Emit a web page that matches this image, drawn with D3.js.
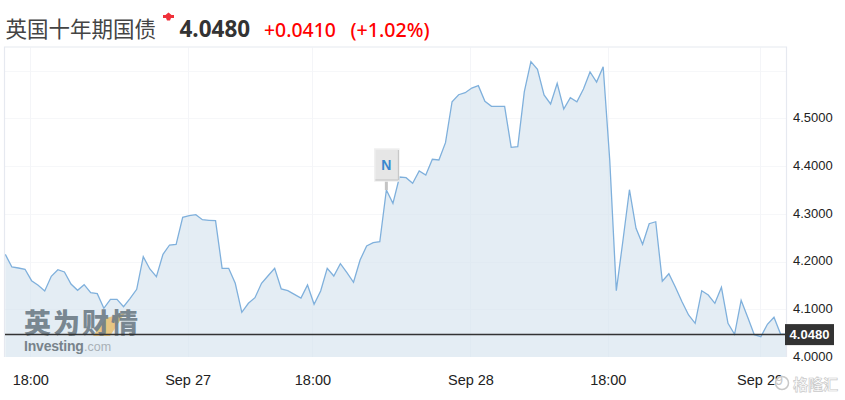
<!DOCTYPE html>
<html>
<head>
<meta charset="utf-8">
<script src="https://cdnjs.cloudflare.com/ajax/libs/d3/7.8.5/d3.min.js"></script>
<style>
html, body { margin: 0; padding: 0; background: #fff; overflow: hidden; }
.axis text { font-family: "Liberation Sans", Arial, sans-serif; fill: #222; }
.axis path, .axis line { display: none; }
</style>
</head>
<body>
<div class="container"></div>
<script>
const WIDTH = 845;
const HEIGHT = 400;
const LEFT = 5, RIGHT = 786, TOP = 47.5, BOTTOM = 357;

const title = "英国十年期国债";
const lastPrice = "4.0480";
const change = "+0.0410";
const changePct = "(+1.02%)";
const lastValue = 4.048;

// one value per sampled period, the axis skips closed hours so x is just the index
const yields = [
	4.2153, 4.1887, 4.1866, 4.1839, 4.16, 4.1503, 4.1384, 4.1692, 4.183, 4.1782,
	4.153, 4.1398, 4.1516, 4.1348, 4.1327, 4.1021, 4.121, 4.121, 4.1055, 4.1231,
	4.1419, 4.2103, 4.1845, 4.1683, 4.2153, 4.2348, 4.2363, 4.2929, 4.2962, 4.2983,
	4.2878, 4.2866, 4.2857, 4.186, 4.186, 4.1545, 4.0937, 4.1126, 4.1243, 4.1545,
	4.1704, 4.186, 4.1426, 4.139, 4.1314, 4.1237, 4.1509, 4.1105, 4.1384, 4.186,
	4.1698, 4.1956, 4.1767, 4.1566, 4.2034, 4.2327, 4.2396, 4.2417, 4.3501, 4.3222,
	4.3774, 4.3759, 4.3642, 4.3899, 4.3816, 4.4145, 4.413, 4.4493, 4.5352, 4.5499,
	4.5541, 4.5639, 4.5688, 4.5361, 4.5256, 4.5256, 4.5256, 4.4396, 4.4409, 4.5562,
	4.6191, 4.6031, 4.5493, 4.5304, 4.5738, 4.5199, 4.5436, 4.5352, 4.5618, 4.5975,
	4.5765, 4.6086, 4.413, 4.139, 4.2432, 4.3507, 4.2698, 4.2363, 4.2795, 4.2836,
	4.1587, 4.1746, 4.1461, 4.1159, 4.0881, 4.0706, 4.139, 4.13, 4.1126, 4.1461,
	4.0706, 4.0476, 4.1189, 4.0832, 4.0468, 4.0426, 4.0686, 4.0832, 4.048, 4.048
];

const yTicks = [4.0, 4.1, 4.2, 4.3, 4.4, 4.5, 4.6];
const yLabelled = [4.0, 4.1, 4.2, 4.3, 4.4, 4.5];
const xTickIndex = [3.8, 27.75, 46.75, 70.8, 91.7, 114.8];
const xTickLabels = ["18:00", "Sep 27", "18:00", "Sep 28", "18:00", "Sep 29"];
const newsIndex = 58;

var svg = d3.select(".container").append('svg')
	.attr('width', WIDTH)
	.attr('height', HEIGHT)
	.style('display', 'block');

var xScale = d3.scaleLinear()
	.domain([0, yields.length - 1])
	.range([5.3, 5.3 + 6.57 * (yields.length - 1)]);

var yScale = d3.scaleLinear()
	.domain([4.0, 4.1])
	.range([BOTTOM, BOTTOM - 47.7]);

// frame and grid
svg.append('rect')
	.attr('x', LEFT).attr('y', TOP)
	.attr('width', RIGHT - LEFT).attr('height', BOTTOM - TOP)
	.attr('fill', '#fff');

svg.append('g').selectAll('line')
	.data(yTicks.slice(1))
	.join('line')
	.attr('x1', LEFT).attr('x2', RIGHT)
	.attr('y1', function(d){ return Math.round(yScale(d)) + 0.5; })
	.attr('y2', function(d){ return Math.round(yScale(d)) + 0.5; })
	.attr('stroke', '#f6f7f9');

svg.append('g').selectAll('line')
	.data(xTickIndex)
	.join('line')
	.attr('x1', function(d){ return Math.round(xScale(d)) + 0.5; })
	.attr('x2', function(d){ return Math.round(xScale(d)) + 0.5; })
	.attr('y1', TOP).attr('y2', BOTTOM)
	.attr('stroke', '#f4f5f8');

svg.append('clipPath').attr('id', 'plot')
	.append('rect')
	.attr('x', LEFT).attr('y', TOP)
	.attr('width', RIGHT - LEFT).attr('height', BOTTOM - TOP);

var area = d3.area()
	.x(function(d, i){ return xScale(i); })
	.y0(BOTTOM)
	.y1(function(d){ return yScale(d); });

var line = d3.line()
	.x(function(d, i){ return xScale(i); })
	.y(function(d){ return yScale(d); });

var plot = svg.append('g').attr('clip-path', 'url(#plot)');

plot.append('path')
	.attr('d', area(yields))
	.attr('fill', '#d5e3ee')
	.attr('fill-opacity', 0.65);

plot.append('path')
	.attr('d', line(yields))
	.attr('fill', 'none')
	.attr('stroke', '#7fb0dc')
	.attr('stroke-width', 1.3);

// outer edges
svg.append('path')
	.attr('d', 'M' + (LEFT - 0.5) + ',' + BOTTOM + 'V' + (TOP - 0.5) + 'H' + (RIGHT + 0.5) + 'V' + BOTTOM)
	.attr('fill', 'none')
	.attr('stroke', '#e6e9f0')
	.attr('stroke-width', 1.2);

// investing.com watermark sits under the price line
var mark = svg.append('g');
mark.append('path')
	.attr('d', d3.line()([[93, 336], [106, 318], [125, 313], [110, 336]]) + 'Z')
	.attr('fill', '#e8b85c')
	.attr('fill-opacity', 0.75);
mark.append('text')
	.attr('x', 24).attr('y', 333)
	.attr('font-family', '"Noto Sans CJK SC"')
	.attr('font-weight', 900)
	.attr('font-size', 27)
	.attr('textLength', 114)
	.attr('fill', '#6f7d87')
	.attr('fill-opacity', 0.92)
	.text('英为财情');
mark.append('text')
	.attr('x', 24).attr('y', 351)
	.attr('font-family', '"Liberation Sans", Arial, sans-serif')
	.attr('font-weight', 700)
	.attr('font-size', 14)
	.attr('letter-spacing', -0.2)
	.attr('fill', '#78838b')
	.text('Investing');
mark.append('text')
	.attr('x', 84).attr('y', 351)
	.attr('font-family', '"Liberation Sans", Arial, sans-serif')
	.attr('font-size', 12.5)
	.attr('fill', '#a9b1b7')
	.text('.com');

// current price line and flag
svg.append('line')
	.attr('x1', LEFT).attr('x2', RIGHT)
	.attr('y1', Math.round(yScale(lastValue)) + 0.5)
	.attr('y2', Math.round(yScale(lastValue)) + 0.5)
	.attr('stroke', '#333')
	.attr('stroke-width', 1.3);

// axes
var yAxis = d3.axisRight(yScale)
	.tickValues(yLabelled)
	.tickFormat(d3.format('.4f'))
	.tickSize(0)
	.tickPadding(0);

svg.append('g')
	.attr('class', 'axis')
	.attr('transform', 'translate(793,-1)')
	.call(yAxis)
	.selectAll('text')
	.style('font-size', '13px');

var xAxis = d3.axisBottom(xScale)
	.tickValues(xTickIndex)
	.tickFormat(function(d, i){ return xTickLabels[i]; })
	.tickSize(0)
	.tickPadding(0);

svg.append('g')
	.attr('class', 'axis')
	.attr('transform', 'translate(0,' + 375 + ')')
	.call(xAxis)
	.selectAll('text')
	.style('font-size', '14.5px');

svg.append('rect')
	.attr('x', 785).attr('y', yScale(lastValue) - 10)
	.attr('width', 49).attr('height', 21)
	.attr('fill', '#333');
svg.append('text')
	.attr('x', 809.5).attr('y', yScale(lastValue) + 5)
	.attr('text-anchor', 'middle')
	.attr('font-family', '"Liberation Sans", Arial, sans-serif')
	.attr('font-weight', 700)
	.attr('font-size', 13)
	.attr('fill', '#fff')
	.text(lastPrice);

// news flag
var newsX = xScale(newsIndex), newsY = yScale(yields[newsIndex]);
var flag = svg.append('g').attr('transform', 'translate(' + newsX + ',' + newsY + ')');
flag.append('rect')
	.attr('x', -1.5).attr('y', -10).attr('width', 3).attr('height', 10)
	.attr('fill', '#c4c4c4');
flag.append('rect')
	.attr('x', -11.5).attr('y', -41).attr('width', 24).attr('height', 32)
	.attr('fill', '#e6e6e6')
	.attr('stroke', '#efefef')
	.attr('stroke-width', 1.5);
flag.append('path')
	.attr('d', 'M-11,-10H12V-40')
	.attr('fill', 'none')
	.attr('stroke', '#c2c2c2')
	.attr('stroke-width', 1);
flag.append('text')
	.attr('x', 0).attr('y', -20)
	.attr('text-anchor', 'middle')
	.attr('font-family', '"Liberation Sans", Arial, sans-serif')
	.attr('font-weight', 700)
	.attr('font-size', 14)
	.attr('fill', '#3a87cf')
	.text('N');

// header
svg.append('text')
	.attr('x', 5.5).attr('y', 37)
	.attr('font-family', '"Noto Sans CJK SC"')
	.attr('font-size', 21.5)
	.attr('fill', '#444')
	.text(title);

svg.append('path')
	.attr('d', 'M168.5,12.5 L171.5,15 L174,15 L174,18 L171,18 L170,20.5 L167,20.5 L166,18 L163,18 L163,15 L165.5,15 Z')
	.attr('fill', '#f0313a');

svg.append('text')
	.attr('x', 179.5).attr('y', 37)
	.attr('font-family', '"Noto Sans", sans-serif')
	.attr('font-weight', 700)
	.attr('font-size', 22.5)
	.attr('fill', '#333')
	.text(lastPrice);

svg.append('text')
	.attr('x', 264).attr('y', 37)
	.attr('font-family', '"Noto Sans", sans-serif')
	.attr('font-weight', 500)
	.attr('font-size', 19.4)
	.attr('fill', '#f00')
	.text(change);

svg.append('text')
	.attr('x', 350.5).attr('y', 37)
	.attr('font-family', '"Noto Sans", sans-serif')
	.attr('font-weight', 500)
	.attr('font-size', 19.6)
	.attr('fill', '#f00')
	.text(changePct);

// gelonghui watermark over the corner
svg.append('circle')
	.attr('cx', 782).attr('cy', 383).attr('r', 6.5)
	.attr('fill', '#fff').attr('fill-opacity', 0.75)
	.attr('stroke', '#c8c8c8').attr('stroke-width', 1.5);
svg.append('text')
	.attr('x', 793).attr('y', 390)
	.attr('font-family', '"Noto Sans CJK SC"')
	.attr('font-weight', 700)
	.attr('font-size', 15)
	.attr('fill', '#fff')
	.attr('stroke', '#c9c9c9')
	.attr('stroke-width', 0.7)
	.text('格隆汇');
</script>
</body>
</html>
